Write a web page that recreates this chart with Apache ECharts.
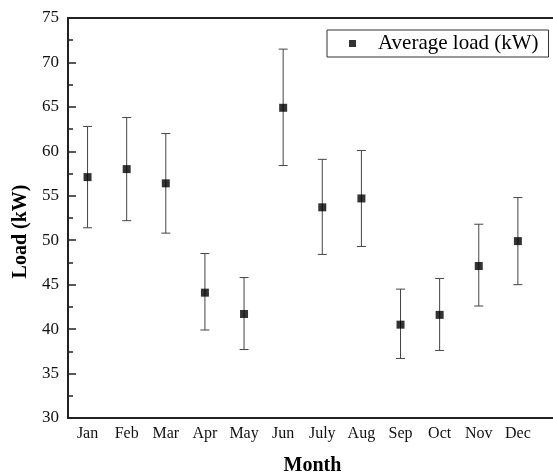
<!DOCTYPE html>
<html>
<head>
<meta charset="utf-8">
<script src="https://cdn.jsdelivr.net/npm/echarts@6/dist/echarts.min.js"></script>
<style>
  html, body { margin: 0; padding: 0; background: #fff; }
  #chart { width: 553px; height: 473px; }
</style>
</head>
<body>
<div id="chart"></div>
<script>
// Monthly average load with min/max spread
const months = ['Jan', 'Feb', 'Mar', 'Apr', 'May', 'Jun', 'July', 'Aug', 'Sep', 'Oct', 'Nov', 'Dec'];
const avgLoad = [57.1, 58.0, 56.4, 44.1, 41.7, 64.9, 53.7, 54.7, 40.5, 41.6, 47.1, 49.9];
const upperLoad = [62.8, 63.8, 62.0, 48.5, 45.8, 71.5, 59.1, 60.1, 44.5, 45.7, 51.8, 54.8];
const lowerLoad = [51.4, 52.2, 50.8, 39.9, 37.7, 58.4, 48.4, 49.3, 36.7, 37.6, 42.6, 45.0];
const yTicks = [30, 35, 40, 45, 50, 55, 60, 65, 70, 75];

const serif = '"Liberation Serif", "DejaVu Serif", serif';

const monthPos = months.map((m, i) => i + 1);
const pointData = avgLoad.map((v, i) => [monthPos[i], v]);
const barData = avgLoad.map((v, i) => [monthPos[i], lowerLoad[i], upperLoad[i]]);

const chart = echarts.init(document.getElementById('chart'), null, { renderer: 'canvas' });

chart.setOption({
  backgroundColor: '#fff',
  animation: false,
  grid: { left: 68, top: 18, right: -4, bottom: 55, containLabel: false, outerBoundsMode: 'none' },
  legend: {
    left: 327,
    top: 30,
    data: ['Average load (kW)'],
    icon: 'rect',
    itemWidth: 7,
    itemHeight: 7,
    borderColor: '#333',
    borderWidth: 1,
    padding: [3, 10, 3, 22],
    textStyle: { fontFamily: serif, fontSize: 21, color: '#000', padding: [0, 0, 0, 17] }
  },
  xAxis: [{
    type: 'value',
    min: 0.5,
    max: 13,
    name: 'Month',
    nameLocation: 'middle',
    nameGap: 38,
    nameTextStyle: { fontFamily: serif, fontSize: 20, fontWeight: 'bold', color: '#000' },
    axisLine: { show: true, onZero: false, lineStyle: { color: '#222', width: 2 } },
    axisTick: { show: false },
    splitLine: { show: false },
    axisLabel: {
      fontFamily: serif, fontSize: 16, color: '#111', margin: 8,
      customValues: monthPos,
      formatter: v => months[Math.round(v) - 1] || ''
    }
  }, {
    type: 'value',
    position: 'top',
    min: 0.5,
    max: 13,
    axisLine: { show: true, onZero: false, lineStyle: { color: '#222', width: 2 } },
    axisTick: { show: false },
    axisLabel: { show: false },
    splitLine: { show: false }
  }],
  yAxis: {
    type: 'value',
    min: yTicks[0],
    max: yTicks[yTicks.length - 1],
    interval: 5,
    name: 'Load (kW)',
    nameLocation: 'middle',
    nameGap: 36,
    nameTextStyle: { fontFamily: serif, fontSize: 20, fontWeight: 'bold', color: '#000', padding: [0, 27, 0, 0] },
    axisLine: { show: true, onZero: false, lineStyle: { color: '#222', width: 2 } },
    axisTick: { show: true, inside: true, length: 8, lineStyle: { color: '#222', width: 1.5 } },
    minorTick: { show: true, splitNumber: 2, length: 5, lineStyle: { color: '#222', width: 1.5 } },
    splitLine: { show: false },
    axisLabel: { fontFamily: serif, fontSize: 17, color: '#111', margin: 9 }
  },
  series: [{
    name: 'spread',
    type: 'custom',
    data: barData,
    encode: { x: 0, y: [1, 2] },
    renderItem: (params, api) => {
      const x = api.value(0);
      const lo = api.coord([x, api.value(1)]);
      const hi = api.coord([x, api.value(2)]);
      const half = 4.5;
      const style = { stroke: '#444', lineWidth: 1 };
      return {
        type: 'group',
        children: [
          { type: 'line', shape: { x1: hi[0], y1: hi[1], x2: lo[0], y2: lo[1] }, style },
          { type: 'line', shape: { x1: hi[0] - half, y1: hi[1], x2: hi[0] + half, y2: hi[1] }, style },
          { type: 'line', shape: { x1: lo[0] - half, y1: lo[1], x2: lo[0] + half, y2: lo[1] }, style }
        ]
      };
    },
    z: 2
  }, {
    name: 'Average load (kW)',
    type: 'scatter',
    data: pointData,
    symbol: 'rect',
    symbolSize: 8,
    itemStyle: { color: '#000' },
    z: 3
  }]
});
</script>
</body>
</html>
